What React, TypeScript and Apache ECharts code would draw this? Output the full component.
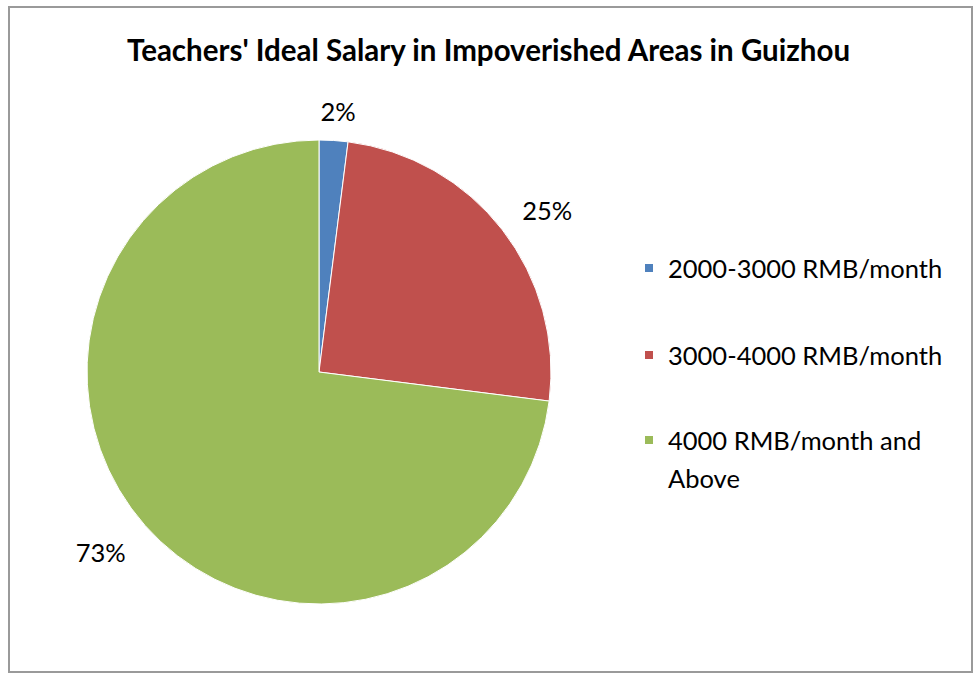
import React, { useEffect, useRef } from "react";
import * as echarts from "echarts";

const titleText = "Teachers' Ideal Salary in Impoverished Areas in Guizhou";
const categories = ["2000-3000 RMB/month", "3000-4000 RMB/month", "4000 RMB/month and Above"];
const values = [2, 25, 73];
const sliceColors = ["#4F81BD", "#C0504D", "#9BBB59"];

const FONT = "Lato";
const CX = 319;
const CY = 372;
const R = 232;
// label placement (style): extra distance beyond the rim, and angular nudge in degrees
const labelGaps = [30, 48, 51];
const labelNudgeDeg = [0.6, 2.4, 1.85];

export default function App() {
  const ref = useRef<HTMLDivElement>(null);
  useEffect(() => {
    if (!ref.current) return;
    const chart = echarts.init(ref.current, null, { renderer: "svg" });
    const total = values.reduce((a, b) => a + b, 0);
    const mids: number[] = [];
    let acc = 0;
    values.forEach((v) => {
      mids.push(((acc + v / 2) / total) * Math.PI * 2);
      acc += v;
    });
    const legendText = {
      fontSize: 25.5,
      fontFamily: FONT,
      color: "#000",
      lineHeight: 38,
    };
    chart.setOption({
      animation: false,
      backgroundColor: "#fff",
      title: {
        text: titleText,
        left: "center",
        top: 34,
        padding: 0,
        textStyle: { fontFamily: FONT, fontSize: 29.5, fontWeight: "bold", color: "#000" },
      },
      graphic: [
        {
          type: "rect",
          shape: { x: 9, y: 7, width: 963, height: 665 },
          style: { fill: "none", stroke: "#9a9a9a", lineWidth: 2 },
          silent: true,
        },
      ],
      legend: [
        {
          orient: "vertical",
          left: 643,
          top: 249,
          padding: 0,
          itemWidth: 10,
          itemHeight: 10,
          itemGap: 49,
          icon: "rect",
          data: [categories[0], categories[1]],
          textStyle: { ...legendText, padding: [0, 0, 0, 9] },
        },
        {
          orient: "vertical",
          left: 643,
          top: 383,
          padding: 0,
          itemWidth: 10,
          itemHeight: 10,
          icon: "rect",
          data: [categories[2]],
          formatter: () => " \n4000 RMB/month and\nAbove",
          textStyle: { ...legendText, padding: [0, 0, 0, 9] },
        },
      ],
      series: [
        {
          type: "pie",
          center: [CX, CY],
          radius: R,
          startAngle: 90,
          clockwise: true,
          data: categories.map((c, i) => ({
            name: c,
            value: values[i],
            itemStyle: { color: sliceColors[i] },
          })),
          itemStyle: { borderColor: "#fff", borderWidth: 1 },
          label: {
            show: true,
            position: "outside",
            formatter: "{d}%",
            fontFamily: FONT,
            fontSize: 25.5,
            color: "#000",
          },
          labelLine: { show: false },
          labelLayout: (p: any) => {
            const a = mids[p.dataIndex] + (labelNudgeDeg[p.dataIndex] * Math.PI) / 180;
            const d = R + labelGaps[p.dataIndex];
            return {
              x: CX + Math.sin(a) * d,
              y: CY - Math.cos(a) * d,
              align: "center",
              verticalAlign: "middle",
            };
          },
          emphasis: { disabled: true },
        },
      ],
    });
    return () => chart.dispose();
  }, []);
  return (
    <div
      ref={ref}
      style={{ position: "fixed", left: 0, top: 0, width: 977, height: 675 }}
    />
  );
}
